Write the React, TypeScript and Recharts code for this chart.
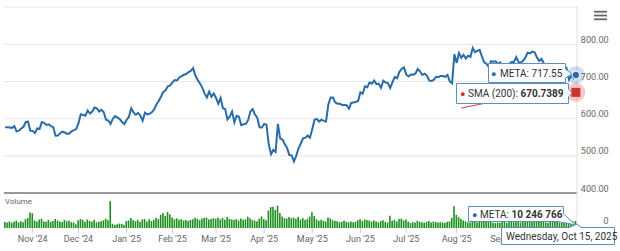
import React from 'react';
import { ComposedChart, Line, Bar, XAxis, YAxis, ReferenceLine } from 'recharts';

// trading calendar for the shown year
const firstDay = '2024-10-16';
const lastDay = '2025-10-15';
const holidays = [
  '2024-11-28', '2024-12-25', '2025-01-01', '2025-01-09', '2025-01-20', '2025-02-17',
  '2025-04-18', '2025-05-26', '2025-06-19', '2025-07-04', '2025-09-01',
];

// META daily close
const closes = [
  576.8, 576.9, 576.5, 575.2, 580.0, 566.0, 567.8, 573.3, 578.2, 591.0,
  591.8, 567.6, 567.2, 561.0, 573.5, 572.0, 591.0, 589.0, 583.0, 584.8,
  580.0, 577.2, 554.0, 554.4, 561.0, 565.0, 563.0, 559.0, 560.0, 566.0,
  569.0, 572.0, 588.0, 612.0, 610.0, 608.0, 622.0, 613.6, 619.0, 630.0,
  628.0, 619.0, 624.0, 618.0, 597.0, 595.0, 586.0, 600.0, 607.0, 603.0,
  599.0, 591.0, 585.5, 597.0, 605.0, 628.0, 617.0, 610.7, 615.5, 608.0,
  594.5, 616.0, 611.3, 613.0, 617.0, 625.0, 638.0, 647.5, 659.0, 672.0,
  676.5, 687.0, 689.2, 697.5, 704.0, 703.0, 711.0, 714.5, 718.0, 720.0,
  725.0, 728.6, 736.0, 716.0, 704.0, 694.8, 683.6, 668.0, 657.0, 673.0,
  659.0, 668.0, 655.6, 640.0, 656.0, 628.0, 625.7, 598.0, 605.7, 619.6,
  590.0, 607.6, 605.0, 582.4, 585.0, 586.0, 596.0, 619.0, 626.0, 611.0,
  602.6, 576.7, 576.4, 586.0, 583.9, 531.6, 504.7, 516.0, 510.5, 585.8,
  546.3, 543.6, 531.5, 521.5, 502.3, 501.5, 484.7, 500.3, 520.3, 533.2,
  547.3, 549.0, 554.4, 549.0, 572.2, 597.0, 599.3, 592.0, 597.0, 594.0,
  592.5, 638.0, 657.0, 657.0, 644.0, 640.3, 640.3, 637.0, 636.6, 636.0,
  627.0, 642.3, 643.6, 645.0, 647.5, 670.9, 666.9, 687.0, 684.6, 697.7,
  694.0, 702.4, 693.0, 693.9, 682.9, 702.0, 697.2, 695.8, 682.4, 698.5,
  712.2, 708.7, 726.0, 733.6, 738.0, 719.0, 713.6, 719.0, 718.4, 720.9,
  733.6, 727.3, 717.5, 720.9, 716.0, 702.9, 701.4, 704.3, 712.7, 711.4,
  714.8, 714.8, 712.7, 717.6, 700.0, 695.2, 773.4, 750.0, 776.4, 763.5,
  772.0, 761.8, 769.3, 765.9, 790.0, 778.9, 782.1, 785.2, 767.4, 751.5,
  747.7, 739.1, 754.8, 753.3, 754.1, 747.4, 751.1, 738.7, 737.0, 737.0,
  748.7, 752.5, 752.3, 765.7, 752.0, 751.2, 755.6, 764.7, 777.6, 775.7,
  780.3, 778.4, 765.2, 755.4, 760.7, 748.9, 743.4, 743.4, 734.4, 717.3,
  727.0, 710.6, 715.7, 713.1, 717.8, 733.5, 705.3, 715.7, 708.7, 717.55,
];

// daily volume, millions of shares
const volumesM = [
  8.7, 8.0, 9.6, 7.8, 8.9, 11.0, 8.2, 9.7, 8.5, 12.6,
  14.5, 22.5, 21.4, 10.8, 9.3, 12.4, 13.6, 9.7, 8.9, 11.8,
  9.2, 10.1, 13.2, 11.0, 9.4, 8.7, 11.6, 9.8, 10.5, 8.4,
  7.9, 5.6, 11.4, 13.0, 11.7, 8.9, 12.3, 10.2, 9.1, 11.9,
  8.4, 8.7, 9.8, 11.1, 13.5, 11.2, 39.0, 6.1, 4.2, 5.3,
  6.4, 5.9, 4.8, 10.2, 10.9, 14.6, 11.3, 9.8, 11.6, 8.9,
  12.5, 13.0, 9.6, 12.7, 10.1, 11.9, 14.8, 13.1, 19.2, 21.6,
  17.5, 23.0, 20.1, 15.4, 12.6, 14.1, 12.0, 12.8, 10.9, 11.5,
  10.2, 11.8, 12.6, 14.9, 13.3, 11.4, 13.9, 14.6, 15.1, 12.4,
  13.0, 14.2, 13.6, 15.2, 12.5, 14.7, 12.0, 15.9, 13.1, 12.2,
  11.6, 12.9, 10.8, 13.8, 11.9, 12.6, 16.4, 14.2, 11.5, 10.7,
  9.8, 13.4, 16.8, 12.9, 11.1, 25.4, 30.2, 31.0, 26.3, 32.5,
  21.8, 16.6, 14.2, 13.7, 15.8, 14.1, 14.9, 13.5, 16.2, 12.3,
  14.3, 11.5, 13.2, 16.5, 22.9, 17.3, 12.8, 10.6, 11.9, 10.2,
  9.6, 15.1, 13.8, 11.3, 10.4, 9.8, 8.5, 8.9, 10.7, 9.1,
  8.3, 9.6, 8.4, 9.0, 11.2, 12.6, 10.1, 12.4, 11.6, 10.9,
  9.3, 10.8, 9.6, 8.2, 10.1, 11.3, 8.9, 8.1, 17.6, 10.4,
  11.8, 9.5, 12.9, 13.7, 11.1, 12.3, 9.6, 7.2, 8.4, 7.8,
  10.6, 9.1, 8.3, 7.6, 8.8, 10.2, 8.1, 9.4, 8.7, 7.9,
  8.3, 8.1, 7.4, 8.9, 9.7, 14.8, 31.6, 19.0, 15.8, 13.1,
  10.9, 9.6, 8.2, 7.9, 10.8, 9.7, 8.1, 9.9, 8.8, 12.1,
  11.4, 10.0, 11.6, 7.7, 7.1, 8.0, 7.5, 8.6, 8.9, 7.4,
  9.8, 10.3, 8.4, 9.6, 10.2, 7.9, 8.8, 9.5, 10.6, 9.2,
  10.8, 13.9, 9.1, 10.4, 8.7, 9.9, 8.2, 7.6, 8.9, 9.8,
  8.6, 10.9, 8.1, 7.7, 8.4, 11.2, 12.6, 8.9, 9.4, 10.246766,
];

// SMA(200), last part of the year only
const smaValues = [
  628.5, 629.8, 631.1, 632.3, 633.6, 634.9, 636.1, 637.4, 638.6, 639.8,
  641.0, 642.1, 643.2, 644.2, 645.1, 646.0, 646.8, 647.6, 648.4, 649.2,
  650.0, 650.8, 651.6, 652.4, 653.2, 654.0, 654.7, 655.4, 656.1, 656.8,
  657.5, 658.2, 658.9, 659.5, 660.1, 660.7, 661.3, 661.9, 662.5, 663.1,
  663.6, 664.1, 664.6, 665.1, 665.6, 666.2, 666.8, 667.5, 668.4, 669.6,
  670.7389,
];

const priceTicks = [400, 500, 600, 700, 800];
const gridValues = [500, 600, 700, 800, 900];
const monthNames = ['Jan', 'Feb', 'Mar', 'Apr', 'May', 'Jun', 'Jul', 'Aug', 'Sep', 'Oct', 'Nov', 'Dec'];
const dayNames = ['Sunday', 'Monday', 'Tuesday', 'Wednesday', 'Thursday', 'Friday', 'Saturday'];

const FONT = 'Roboto, Arial, sans-serif';
const BLUE = '#2a6ca8';
const RED = '#d0312d';
const GREEN = '#1f8f1f';
const TIP_BORDER = '#5d8fbd';

function tradingDays(): string[] {
  const out: string[] = [];
  const d = new Date(firstDay + 'T00:00:00Z');
  const end = new Date(lastDay + 'T00:00:00Z');
  while (d <= end) {
    const iso = d.toISOString().slice(0, 10);
    const wd = d.getUTCDay();
    if (wd !== 0 && wd !== 6 && !holidays.includes(iso)) out.push(iso);
    d.setUTCDate(d.getUTCDate() + 1);
  }
  return out;
}

const days = tradingDays();
const smaStart = closes.length - smaValues.length;
const data = days.map((date, i) => ({
  date,
  close: closes[i],
  volume: Math.round(volumesM[i] * 1e6),
  sma: i >= smaStart ? smaValues[i - smaStart] : null,
}));

// first trading day of each month; the Oct '25 label sits under the date tooltip, so drop it
const monthTicks = days
  .filter((d, i) => i > 0 && d.slice(5, 7) !== days[i - 1].slice(5, 7))
  .slice(0, -1);
const fmtMonth = (d: string) => `${monthNames[+d.slice(5, 7) - 1]} '${d.slice(2, 4)}`;

const last = data[data.length - 1];
const lastDate = new Date(last.date + 'T00:00:00Z');
const dateText = `${dayNames[lastDate.getUTCDay()]}, ${monthNames[lastDate.getUTCMonth()]} ${lastDate.getUTCDate()}, ${lastDate.getUTCFullYear()}`;
const volText = String(last.volume).replace(/\B(?=(\d{3})+(?!\d))/g, ' ');

const PriceTick = (props: any) => {
  const { x, y, payload } = props;
  return (
    <text x={x + 23.5} y={y - 1.5} textAnchor="end" fontSize={9} fill="#666" fontFamily={FONT}>
      {payload.value.toFixed(2)}
    </text>
  );
};

const ZeroLabel = (props: any) => {
  const { viewBox } = props;
  return (
    <text x={viewBox.x + viewBox.width + 31.5} y={viewBox.y - 4} textAnchor="end" fontSize={9} fill="#666" fontFamily={FONT}>
      0
    </text>
  );
};

const PriceDot = (props: any) => {
  const { cx, cy, index } = props;
  if (index !== data.length - 1) return <g key={`p${index}`} />;
  return (
    <g key="p-last">
      <circle cx={cx} cy={cy} r={9} fill={BLUE} fillOpacity={0.22} />
      <circle cx={cx} cy={cy} r={3.8} fill={BLUE} stroke="#fff" strokeWidth={1} />
    </g>
  );
};

const SmaDot = (props: any) => {
  const { cx, cy, index } = props;
  if (index !== data.length - 1 || cy == null) return <g key={`s${index}`} />;
  return (
    <g key="s-last">
      <circle cx={cx} cy={cy} r={9.5} fill={RED} fillOpacity={0.25} />
      <rect x={cx - 4.5} y={cy - 4.5} width={9} height={9} fill={RED} />
    </g>
  );
};

function Overlay() {
  const txt = { fontFamily: FONT, fontSize: 10, fill: '#333' } as const;
  const dot = { fontFamily: FONT, fontSize: 9 } as const;
  return (
    <svg width={620} height={251} style={{ position: 'absolute', left: 0, top: 0, pointerEvents: 'none' }}>
      {/* menu button */}
      <rect x={594} y={10.8} width={13} height={1.8} fill="#666" />
      <rect x={594} y={14.6} width={13} height={1.8} fill="#666" />
      <rect x={594} y={18.4} width={13} height={1.8} fill="#666" />

      <text x={5} y={204} fontSize={8} fill="#666" fontFamily={FONT}>Volume</text>

      {/* META price tooltip */}
      <path d="M488.5,63.5 H565.5 V69 L572,74 L565.5,78 V82.5 H488.5 Z" fill="#fff" fillOpacity={0.95} stroke={TIP_BORDER} />
      <text x={491} y={76.5} fill={BLUE} {...dot}>●</text>
      <text x={500} y={76.5} {...txt}>META: {last.close.toFixed(2)}</text>

      {/* SMA tooltip */}
      <path d="M456.5,83.5 H568.5 V89 L572,93 L568.5,97 V103.5 H456.5 Z" fill="#fff" fillOpacity={0.95} stroke={TIP_BORDER} />
      <text x={460} y={97} fill={RED} {...dot}>●</text>
      <text x={468} y={97} {...txt}>
        SMA (200): <tspan fontWeight="bold">{(last.sma as number).toFixed(4)}</tspan>
      </text>

      {/* volume tooltip */}
      <path d="M468.5,206.5 H563.5 V214 L576,225 L558,221.5 H468.5 Z" fill="#fff" fillOpacity={0.95} stroke={TIP_BORDER} />
      <text x={472} y={217.5} fill={BLUE} {...dot}>●</text>
      <text x={480} y={217.5} {...txt}>
        META: <tspan fontWeight="bold">{volText}</tspan>
      </text>

      {/* date tooltip */}
      <path d="M501.5,227.5 H569 L577,224 L581,227.5 H614.5 V244.5 H501.5 Z" fill="#fff" fillOpacity={0.95} stroke={TIP_BORDER} />
      <text x={506} y={239.5} {...txt}>{dateText}</text>
    </svg>
  );
}

export default function App() {
  return (
    <div style={{ position: 'absolute', left: 0, top: 0, width: 620, height: 251, background: '#fff' }}>
      <ComposedChart width={620} height={251} data={data} margin={{ top: 6, right: 0, left: 4, bottom: 0 }}>
        <XAxis
          dataKey="date"
          ticks={monthTicks}
          interval={0}
          tickFormatter={fmtMonth}
          axisLine={false}
          tickLine={{ stroke: '#ccc' }}
          tickSize={5}
          tickMargin={3}
          height={23}
          tick={{ fontSize: 9, fill: '#666', fontFamily: FONT }}
        />
        <YAxis
          yAxisId="price"
          orientation="right"
          width={43}
          domain={[306, 903]}
          ticks={priceTicks}
          tick={<PriceTick />}
          tickLine={false}
          axisLine={{ stroke: '#e0e0e0' }}
        />
        <YAxis yAxisId="vol" hide domain={[0, 322e6]} />

        {gridValues.map((v) => (
          <ReferenceLine key={v} yAxisId="price" y={v} stroke="#e6e6e6" />
        ))}
        <ReferenceLine yAxisId="vol" y={0} stroke="none" label={<ZeroLabel />} />

        <Bar yAxisId="vol" dataKey="volume" fill={GREEN} barSize={1.6} isAnimationActive={false} />
        <ReferenceLine yAxisId="price" y={400} stroke="#999" strokeWidth={2} />
        <Line
          yAxisId="price"
          type="linear"
          dataKey="sma"
          stroke={RED}
          strokeWidth={1}
          dot={SmaDot}
          activeDot={false}
          isAnimationActive={false}
        />
        <Line
          yAxisId="price"
          type="linear"
          dataKey="close"
          stroke={BLUE}
          strokeWidth={2}
          dot={PriceDot}
          activeDot={false}
          isAnimationActive={false}
        />
      </ComposedChart>
      <Overlay />
    </div>
  );
}
